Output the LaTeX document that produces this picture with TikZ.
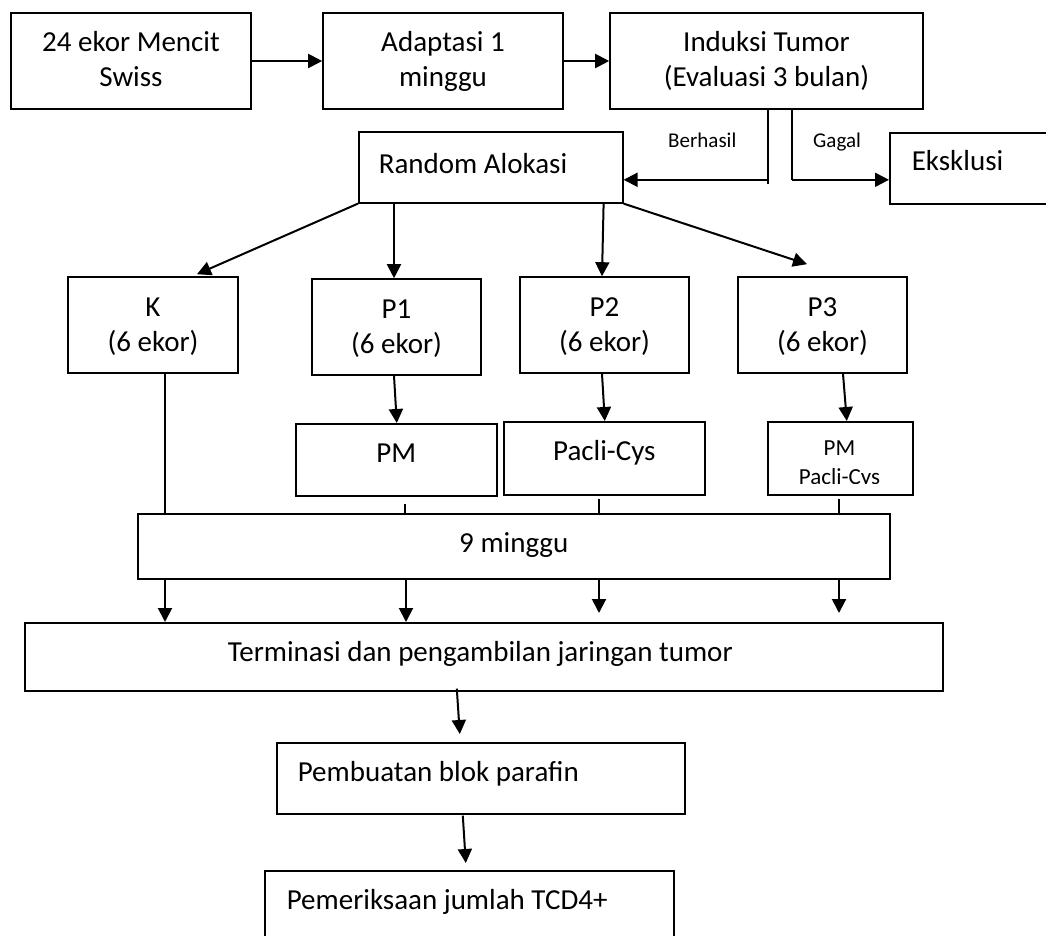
\documentclass[tikz,border=0pt]{standalone}
\usepackage{fontspec}
\setmainfont{Carlito}
\usetikzlibrary{arrows.meta,calc}
\newcommand\topst{\rule{0pt}{25pt}}
\newcommand\botst{\rule[-8pt]{0pt}{8pt}}
\begin{document}
\begin{tikzpicture}[x=1pt,y=-1pt,
  box/.style={draw, line width=1.6pt, inner sep=0pt},
  big/.style={font=\fontsize{29}{35}\selectfont},
  twoline/.style={box, big, align=center},
  sbox/.style args={#1/#2/#3/#4}{box, big, anchor=north west, text width=#1, align=#4, text height=#2, text depth=#3},
  arr/.style={line width=2pt, -{Triangle[length=14pt,width=14pt]}},
  ln/.style={line width=1.8pt},
  thinln/.style={line width=1.1pt},
  lbl/.style={font=\fontsize{21}{25}\selectfont, inner sep=0pt},
  small/.style={font=\fontsize{23}{28}\selectfont, inner sep=0pt},
]
\path[use as bounding box, fill=white] (0,0) rectangle (1046,936);
\clip (0,0) rectangle (1046,936);

% top row
\node[twoline, minimum width=240pt, minimum height=96pt] (mencit) at (131,61) {\topst 24 ekor Mencit\\Swiss\botst};
\node[twoline, minimum width=240pt, minimum height=96pt] (adapt) at (443,61) {\topst Adaptasi 1\\minggu\botst};
\node[twoline, minimum width=313pt, minimum height=96pt] (induksi) at (766.5,61) {\topst Induksi Tumor\\(Evaluasi 3 bulan)\botst};

% second row
\node[sbox={264pt/42pt/29pt/flush left}] (random) at (358,131) {\noindent\hspace*{20pt}Random Alokasi};
\node[sbox={171pt/38pt/33pt/flush left}] (eksklusi) at (889,132) {\noindent\hspace*{22pt}Eksklusi};

% groups
\node[twoline, minimum width=170pt, minimum height=96pt] (K) at (153,325) {\topst K\\(6 ekor)\botst};
\node[twoline, minimum width=169pt, minimum height=96pt] (P1) at (396.5,327) {\topst P1\\(6 ekor)\botst};
\node[twoline, minimum width=169pt, minimum height=96pt] (P2) at (604.5,325) {\topst P2\\(6 ekor)\botst};
\node[twoline, minimum width=169pt, minimum height=96pt] (P3) at (822.5,325) {\topst P3\\(6 ekor)\botst};

% treatments
\node[sbox={201pt/39pt/33pt/flush center}] (PM) at (295,423) {PM};
\node[sbox={201pt/39pt/34pt/flush center}] (pacli) at (503,421) {Pacli-Cys};
\node[box, anchor=north west, minimum width=145pt, minimum height=73pt] (pmpacli) at (767,421) {};
\begin{scope}
  \clip (767,421) rectangle (912,483);
  \node[small, anchor=base] (pmt) at (839.5,455) {PM};
  \node[small, anchor=base] (pct) at (839.5,484) {Pacli-Cys};
\end{scope}

% lower boxes
\node[sbox={752pt/39pt/26pt/flush center}] (minggu9) at (137,513) {9 minggu};
\node[sbox={918pt/39pt/29pt/flush left}] (termin) at (24,622) {\noindent\hspace*{203pt}Terminasi dan pengambilan jaringan tumor};
\node[sbox={408pt/39pt/32pt/flush left}] (pembuatan) at (276,742) {\noindent\hspace*{21pt}Pembuatan blok parafin};
\node[sbox={409pt/39pt/41pt/flush left}] (pemeriksaan) at (264,870) {\noindent\hspace*{22pt}Pemeriksaan jumlah TCD4+};

% top arrows
\draw[arr] (mencit.east) -- (adapt.west);
\draw[arr] (adapt.east) -- (induksi.west);

% Berhasil / Gagal split
\coordinate (bh) at ($(induksi.south)+(1.5,70)$);
\coordinate (gg) at ($(induksi.south)+(25.5,70)$);
\draw[thinln] (induksi.south -| bh) -- ($(bh)+(0,4)$);
\draw[thinln] (induksi.south -| gg) -- (gg);
\draw[arr] (bh) -- (random.east |- bh);
\draw[arr] (gg) -- (eksklusi.west |- gg);
\node[lbl, anchor=base west] (berhasil) at (668,148) {Berhasil};
\node[lbl, anchor=base west] (gagal) at (813,148) {Gagal};

% random allocation arrows
\draw[arr] (random.south west) -- ($(K.north)+(44,-2)$);
\draw[arr] ($(random.south west)+(36,0)$) -- ($(P1.north)+(-2.5,0)$);
\draw[arr] ($(random.south east)+(-20,0)$) -- ($(P2.north)+(-2.5,0)$);
\draw[arr] (random.south east) -- ($(P3.north)+(-15.5,-12)$);

% group to treatment
\draw[arr] ($(P1.south)+(-2.5,0)$) -- ($(PM.north)+(0.5,0)$);
\draw[arr] ($(P2.south)+(-2.5,0)$) -- ($(pacli.north)+(0.5,0)$);
\draw[arr] ($(P3.south)+(20.5,0)$) -- ($(pmpacli.north)+(6.5,0)$);

% into 9 minggu
\coordinate (kx) at ($(K.south)+(12,0)$);
\coordinate (pmx) at ($(PM.south)+(8.5,7)$);
\coordinate (pcx) at ($(pacli.south)+(-5.5,3)$);
\coordinate (ppx) at ($(pmpacli.south)+(-1.5,3)$);
\draw[ln] (kx) -- (kx |- minggu9.north);
\draw[ln] (pmx) -- (pmx |- minggu9.north);
\draw[ln] (pcx) -- (pcx |- minggu9.north);
\draw[ln] (ppx) -- (ppx |- minggu9.north);

% out of 9 minggu
\coordinate (a1) at ($(minggu9.south west)+(28,0)$);
\coordinate (a2) at ($(minggu9.south west)+(269,0)$);
\coordinate (a3) at ($(minggu9.south west)+(462,0)$);
\coordinate (a4) at ($(minggu9.south west)+(702,0)$);
\draw[arr] (a1) -- (a1 |- termin.north);
\draw[arr] (a2) -- (a2 |- termin.north);
\draw[arr] (a3) -- ($(a3 |- termin.north)+(0,-9)$);
\draw[arr] (a4) -- ($(a4 |- termin.north)+(0,-9)$);

% bottom chain
\draw[arr] ($(termin.south)+(-27,-3)$) -- ($(pembuatan.north)+(-21,-8)$);
\draw[arr] ($(pembuatan.south)+(-18,1)$) -- ($(pemeriksaan.north)+(-3.5,-7)$);
\end{tikzpicture}
\end{document}
